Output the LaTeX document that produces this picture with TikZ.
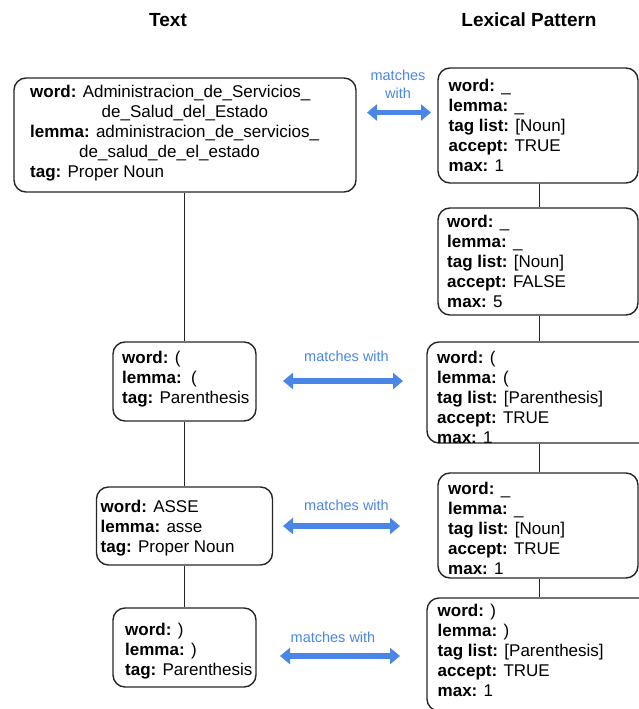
\documentclass[tikz,border=0pt]{standalone}
\usepackage{fontspec}
\setmainfont{Liberation Sans}
\usetikzlibrary{arrows.meta}
\definecolor{mblue}{RGB}{74,134,232}
\newcommand{\fk}[1]{\textbf{#1:}}
\newcommand{\lines}[1]{\begin{tabular}[t]{@{}l@{}}#1\end{tabular}}
\begin{document}
\begin{tikzpicture}[x=1pt,y=-1pt,
  box/.style={draw=black!85, line width=1.4pt, rounded corners=12pt, inner sep=0pt},
  txt/.style={anchor=base west, inner sep=0pt, font=\fontsize{17}{20.1}\selectfont},
  head/.style={anchor=base, inner sep=0pt, font=\fontsize{19}{22}\selectfont\bfseries},
  mlabel/.style={text=mblue, inner sep=0pt, align=center, font=\fontsize{14.5}{18}\selectfont},
  link/.style={draw=black!85, line width=1.3pt},
  marrow/.style={draw=mblue, line width=5.5pt, {Triangle[length=10pt,width=16pt]}-{Triangle[length=10pt,width=16pt]}}
]
\useasboundingbox (0,0) rectangle (639,709);

% headers
\node[head] (hText) at (168,27) {Text};
\node[head] (hLex) at (529,27) {Lexical Pattern};

% left boxes
\node[box, minimum width=342pt, minimum height=114pt] (A) at (185,135) {};
\node[box, minimum width=143pt, minimum height=79pt] (L2) at (184.5,381.5) {};
\node[box, minimum width=176pt, minimum height=78pt] (L3) at (184.5,526) {};
\node[box, minimum width=143pt, minimum height=79pt] (L4) at (184.5,647.5) {};

% right boxes
\node[box, minimum width=200pt, minimum height=115pt] (B1) at (538,125.5) {};
\node[box, minimum width=200pt, minimum height=107pt] (B2) at (538,261.5) {};
\node[box, minimum width=226pt, minimum height=101pt] (B3) at (540,392.5) {};
\node[box, minimum width=200pt, minimum height=105pt] (B4) at (538,525.5) {};
\node[box, minimum width=226pt, minimum height=113pt] (B5) at (540,654.5) {};

% connectors
\draw[link] (A.south -| 184.5,0) -- (L2.north);
\draw[link] (L2.south) -- (L3.north);
\draw[link] (L3.south) -- (L4.north);
\draw[link] (B1.south -| 539.5,0) -- (B2.north -| 539.5,0);
\draw[link] (B2.south -| 539.5,0) -- (B3.north -| 539.5,0);
\draw[link] (B3.south -| 539.5,0) -- (B4.north -| 539.5,0);
\draw[link] (B4.south -| 539.5,0) -- (B5.north -| 539.5,0);

% texts left
\node[txt] (tA) at (30,97) {\lines{\fk{word} Administracion\_de\_Servicios\_\\
\hspace*{71.5pt}de\_Salud\_del\_Estado\\
\fk{lemma} administracion\_de\_servicios\_\\
\hspace*{49pt}de\_salud\_de\_el\_estado\\
\fk{tag} Proper Noun}};
\node[txt] (tL2) at (122,363) {\lines{\fk{word} (\\ \fk{lemma}\ \ (\\ \fk{tag} Parenthesis}};
\node[txt] (tL3) at (100.5,512) {\lines{\fk{word} ASSE\\ \fk{lemma} asse\\ \fk{tag} Proper Noun}};
\node[txt] (tL4) at (125,635) {\lines{\fk{word} )\\ \fk{lemma} )\\ \fk{tag} Parenthesis}};

% texts right
\node[txt] (tB1) at (448.5,91) {\lines{\fk{word} \_\\ \fk{lemma} \_\\ \fk{tag list} [Noun]\\ \fk{accept} TRUE\\ \fk{max} 1}};
\node[txt] (tB2) at (447,227) {\lines{\fk{word} \_\\ \fk{lemma} \_\\ \fk{tag list} [Noun]\\ \fk{accept} FALSE\\ \fk{max} 5}};
\node[txt] (tB3) at (437,363) {\lines{\fk{word} (\\ \fk{lemma} (\\ \fk{tag list} [Parenthesis]\\ \fk{accept} TRUE\\ \fk{max} 1}};
\node[txt] (tB4) at (448,494) {\lines{\fk{word} \_\\ \fk{lemma} \_\\ \fk{tag list} [Noun]\\ \fk{accept} TRUE\\ \fk{max} 1}};
\node[txt] (tB5) at (437.5,616) {\lines{\fk{word} )\\ \fk{lemma} )\\ \fk{tag list} [Parenthesis]\\ \fk{accept} TRUE\\ \fk{max} 1}};

% matches-with arrows
\coordinate (m1l) at (367,112.5);
\coordinate (m1r) at (431,112.5);
\coordinate (m2l) at (283,381);
\coordinate (m2r) at (403,381);
\coordinate (m3l) at (283,526);
\coordinate (m3r) at (400,526);
\coordinate (m4l) at (280,656);
\coordinate (m4r) at (400,656);
\draw[marrow] (m1l) -- (m1r);
\draw[marrow] (m2l) -- (m2r);
\draw[marrow] (m3l) -- (m3r);
\draw[marrow] (m4l) -- (m4r);
\node[mlabel] (lab1) at (398,84) {matches\\with};
\node[mlabel] (lab2) at (346.5,356) {matches with};
\node[mlabel] (lab3) at (346.5,505) {matches with};
\node[mlabel] (lab4) at (333,637) {matches with};
\end{tikzpicture}
\end{document}
